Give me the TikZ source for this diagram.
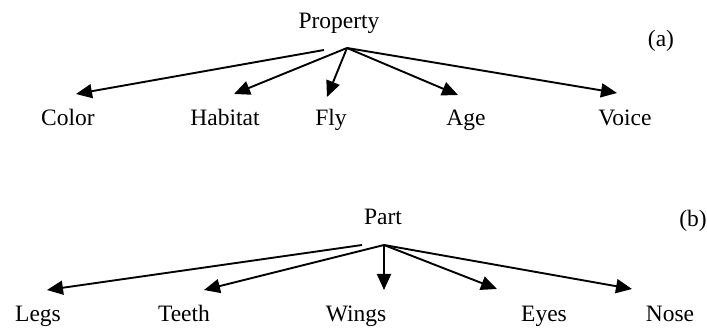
\documentclass[tikz,border=0pt]{standalone}
\usepackage{fontspec}
\setmainfont{Liberation Serif}
\usetikzlibrary{arrows.meta}
\begin{document}
\begin{tikzpicture}[x=1pt,y=-1pt,
  lbl/.style={anchor=base,inner sep=0pt,font=\fontsize{23.5}{28}\selectfont},
  arr/.style={line width=1.9pt,-{Triangle[length=16pt,width=14pt]}}]
\useasboundingbox (0,0) rectangle (707,328);
% (a)
\node[lbl] (prop) at (339,29) {Property};
\node[lbl] (tagA) at (661,47) {(a)};
\node[lbl] (color) at (68,126) {Color};
\node[lbl] (habitat) at (225,126) {Habitat};
\node[lbl] (fly) at (331,126) {Fly};
\node[lbl] (age) at (466,126) {Age};
\node[lbl] (voice) at (625,126) {Voice};
\coordinate (apA) at (347,48);
\coordinate (stA) at (324,50);
\coordinate (tColor) at (76,94);
\coordinate (tHab) at (234,94);
\coordinate (tFly) at (327,97);
\coordinate (tAge) at (458,95);
\coordinate (tVoice) at (617,93);
\draw[arr] (stA) -- (tColor);
\draw[arr] (apA) -- (tHab);
\draw[arr] (apA) -- (tFly);
\draw[arr] (apA) -- (tAge);
\draw[arr] (apA) -- (tVoice);
% (b)
\node[lbl] (part) at (383,225) {Part};
\node[lbl] (tagB) at (693,227) {(b)};
\node[lbl] (legs) at (38,322) {Legs};
\node[lbl] (teeth) at (184,322) {Teeth};
\node[lbl] (wings) at (356,322) {Wings};
\node[lbl] (eyes) at (544,322) {Eyes};
\node[lbl] (nose) at (670,322) {Nose};
\coordinate (apB) at (384,245);
\coordinate (stB) at (362,245);
\coordinate (tLegs) at (47,290);
\coordinate (tTeeth) at (204,290);
\coordinate (tWings) at (384,290);
\coordinate (tEyes) at (497,289);
\coordinate (tNose) at (632,289);
\draw[arr] (stB) -- (tLegs);
\draw[arr] (apB) -- (tTeeth);
\draw[arr] (apB) -- (tWings);
\draw[arr] (apB) -- (tEyes);
\draw[arr] (apB) -- (tNose);
\end{tikzpicture}
\end{document}
